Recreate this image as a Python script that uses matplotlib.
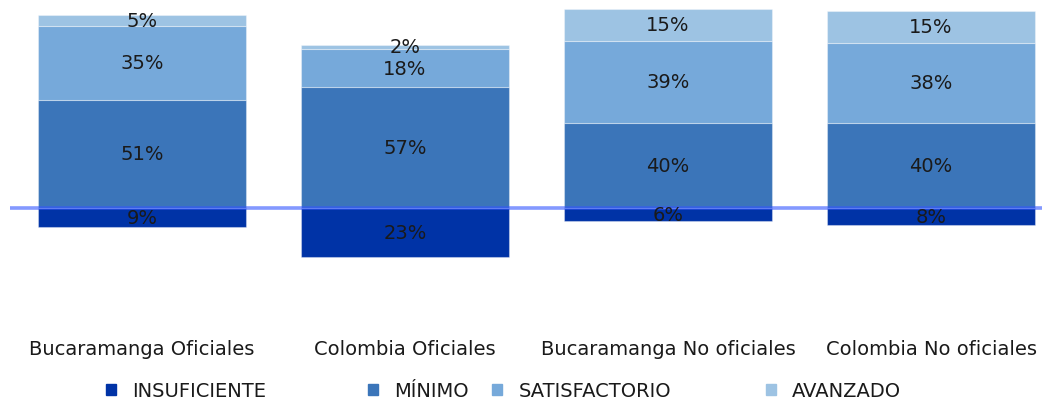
import matplotlib
matplotlib.use("Agg")
import matplotlib.pyplot as plt
from matplotlib.patches import Patch
import numpy as np

categories = ["Bucaramanga Oficiales", "Colombia Oficiales",
              "Bucaramanga No oficiales", "Colombia No oficiales"]
insuficiente = [9, 23, 6, 8]
minimo = [51, 57, 40, 40]
satisfactorio = [35, 18, 39, 38]
avanzado = [5, 2, 15, 15]
series_names = ["INSUFICIENTE", "MÍNIMO", "SATISFACTORIO", "AVANZADO"]
colors = ["#0033A6", "#3B75B9", "#76A9DA", "#9DC3E3"]

W, H = 1042, 402
fig = plt.figure(figsize=(W / 100, H / 100), dpi=100)
ax = fig.add_axes([10 / W, (H - 330) / H, (W - 10) / W, 330 / H])

x = np.arange(len(categories))
bw = 0.79
edge = dict(edgecolor=(1, 1, 1, 0.35), linewidth=0.8)
ins = -np.array(insuficiente)
ax.bar(x, ins, bw, color=colors[0], **edge)
bottom = np.zeros(len(x))
segs = []
for vals, c in zip([minimo, satisfactorio, avanzado], colors[1:]):
    v = np.array(vals, dtype=float)
    ax.bar(x, v, bw, bottom=bottom, color=c, **edge)
    segs.append((bottom.copy(), v))
    bottom += v

fs = 14
for i in range(len(x)):
    ax.text(x[i], ins[i] / 2, f"{insuficiente[i]}%", ha="center", va="center",
            fontsize=fs, color="#1a1a1a", zorder=5)
    for b, v in segs:
        ax.text(x[i], b[i] + v[i] / 2, f"{int(v[i])}%", ha="center", va="center",
                fontsize=fs, color="#1a1a1a", zorder=5)

ax.axhline(0, color="#3355FF", alpha=0.6, lw=2.6, zorder=4)

ax.set_xlim((10 - 142) / 263, (1042 - 142) / 263)
ax.set_ylim(-(330 - 209) / 2.12, 209 / 2.12)
ax.set_xticks(x)
ax.set_xticklabels(categories, fontsize=fs, color="#1a1a1a")
ax.tick_params(axis="x", length=0, pad=7)
ax.set_yticks([])
for s in ax.spines.values():
    s.set_visible(False)

# legend entries
leg_x = [106, 368, 492, 766]
for name, c, lx in zip(series_names, colors, leg_x):
    lg = fig.legend(handles=[Patch(color=c)], labels=[name], loc="center left",
                    bbox_to_anchor=(lx / W, (H - 392) / H), frameon=False,
                    fontsize=fs, handlelength=0.5, handleheight=0.5,
                    handletextpad=0.85, borderpad=0, borderaxespad=0)
    for t in lg.get_texts():
        t.set_color("#1a1a1a")

fig.savefig("out.png", dpi=100)
